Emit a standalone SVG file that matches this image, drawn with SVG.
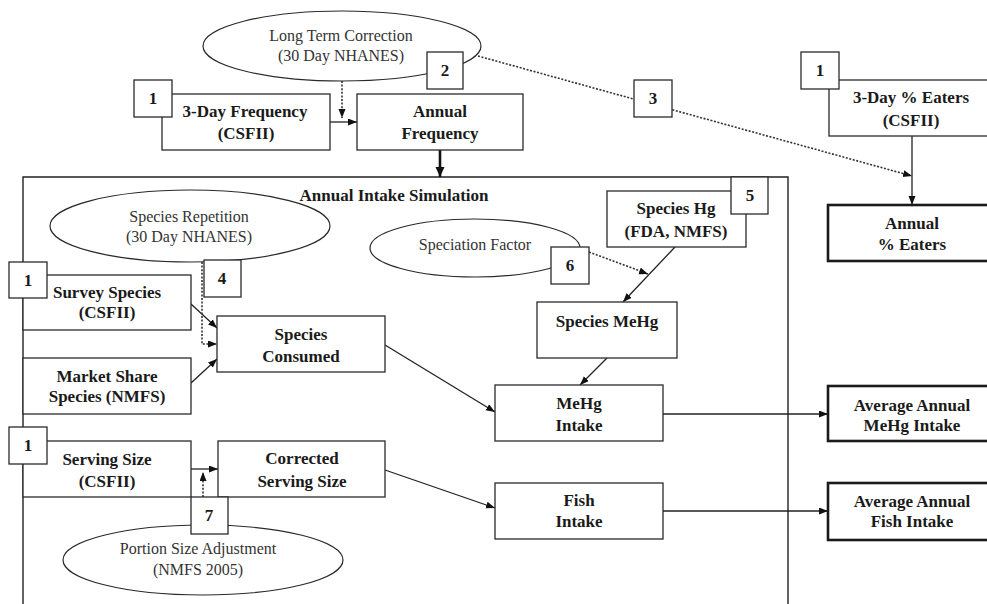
<svg xmlns="http://www.w3.org/2000/svg" width="987" height="604" viewBox="0 0 987 604">
<defs>
<style>
.b{fill:#fff;stroke:#2a2a2a;stroke-width:1.3}
.tb{fill:#fff;stroke:#1a1a1a;stroke-width:2.6}
.e{fill:#fff;stroke:#2a2a2a;stroke-width:1.2}
.n{fill:#fff;stroke:#2a2a2a;stroke-width:1.3}
.t{font-family:"Liberation Serif","Times New Roman",serif;font-weight:bold;font-size:17px;fill:#1a1a1a;text-anchor:middle}
.r{font-family:"Liberation Serif","Times New Roman",serif;font-size:16px;fill:#333;text-anchor:middle}
.c{fill:none;stroke:#222;stroke-width:1.3}
.d{fill:none;stroke:#333;stroke-width:1.6;stroke-dasharray:2 1.6}
</style>
<marker id="a" markerUnits="userSpaceOnUse" markerWidth="10" markerHeight="8" refX="9" refY="3.5" orient="auto">
<path d="M0,0 L9,3.5 L0,7 z" fill="#111"/>
</marker>
<marker id="a2" markerUnits="userSpaceOnUse" markerWidth="12" markerHeight="10" refX="10" refY="4.5" orient="auto">
<path d="M0,0 L10,4.5 L0,9 z" fill="#111"/>
</marker>
</defs>
<rect width="987" height="604" fill="#fff"/>

<g id="simulation">
<path d="M23,604 L23,177 L788,177 L788,604" fill="none" stroke="#222" stroke-width="1.4"/>
<text class="t" x="394" y="201">Annual Intake Simulation</text>
</g>

<g id="connectors">
<line class="c" x1="330" y1="122" x2="357" y2="122" marker-end="url(#a)"/>
<line class="d" x1="342" y1="81" x2="342" y2="118" marker-end="url(#a)"/>
<line x1="440" y1="150" x2="440" y2="177" stroke="#111" stroke-width="2.6" marker-end="url(#a2)"/>
<line class="d" x1="478" y1="56" x2="912" y2="176" marker-end="url(#a)"/>
<line class="c" x1="912" y1="136" x2="912" y2="205" marker-end="url(#a)"/>
<line class="c" x1="191" y1="304" x2="217" y2="328" marker-end="url(#a)"/>
<polyline class="d" points="202,262 202,344 217,344" marker-end="url(#a)"/>
<line class="c" x1="191" y1="383" x2="217" y2="359" marker-end="url(#a)"/>
<line class="c" x1="385" y1="345" x2="495" y2="412" marker-end="url(#a)"/>
<line class="c" x1="191" y1="469" x2="218" y2="469" marker-end="url(#a)"/>
<line class="d" x1="203" y1="497" x2="203" y2="472" marker-end="url(#a)"/>
<line class="c" x1="385" y1="470" x2="495" y2="508" marker-end="url(#a)"/>
<line class="c" x1="675" y1="247" x2="623" y2="302" marker-end="url(#a)"/>
<line class="d" x1="589" y1="252" x2="648" y2="274" marker-end="url(#a)"/>
<line class="c" x1="607" y1="358" x2="580" y2="385" marker-end="url(#a)"/>
<line class="c" x1="663" y1="414" x2="828" y2="414" marker-end="url(#a)"/>
<line class="c" x1="663" y1="511" x2="828" y2="511" marker-end="url(#a)"/>
</g>

<g id="long-term-correction">
<ellipse class="e" cx="342" cy="46" rx="139" ry="35"/>
<text class="r" x="341" y="41">Long Term Correction</text>
<text class="r" x="341" y="61">(30 Day NHANES)</text>
</g>
<g id="three-day-frequency">
<rect class="b" x="162" y="94" width="168" height="56"/>
<text class="t" x="245" y="117">3-Day Frequency</text>
<text class="t" x="246" y="139">(CSFII)</text>
</g>
<g id="annual-frequency">
<rect class="b" x="357" y="94" width="166" height="56"/>
<text class="t" x="440" y="117">Annual</text>
<text class="t" x="440" y="139">Frequency</text>
</g>
<g id="three-day-eaters">
<rect class="b" x="829" y="80" width="170" height="56"/>
<text class="t" x="911" y="103">3-Day % Eaters</text>
<text class="t" x="911" y="126">(CSFII)</text>
</g>
<g id="annual-eaters">
<rect class="tb" x="828" y="205" width="175" height="56"/>
<text class="t" x="912" y="229">Annual</text>
<text class="t" x="912" y="250">% Eaters</text>
</g>

<g id="species-repetition">
<ellipse class="e" cx="190" cy="226" rx="140" ry="36"/>
<text class="r" x="189" y="222">Species Repetition</text>
<text class="r" x="189" y="242">(30 Day NHANES)</text>
</g>
<g id="speciation-factor">
<ellipse class="e" cx="475" cy="248" rx="105" ry="29"/>
<text class="r" x="475" y="250">Speciation Factor</text>
</g>
<g id="species-hg">
<rect class="b" x="607" y="191" width="139" height="56"/>
<text class="t" x="676" y="214">Species Hg</text>
<text class="t" x="676" y="237">(FDA, NMFS)</text>
</g>
<g id="survey-species">
<rect class="b" x="23" y="275" width="168" height="55"/>
<text class="t" x="107" y="298">Survey Species</text>
<text class="t" x="107" y="318">(CSFII)</text>
</g>
<g id="market-share">
<rect class="b" x="23" y="358" width="168" height="56"/>
<text class="t" x="107" y="382">Market Share</text>
<text class="t" x="107" y="402">Species (NMFS)</text>
</g>
<g id="species-consumed">
<rect class="b" x="217" y="316" width="168" height="56"/>
<text class="t" x="301" y="340">Species</text>
<text class="t" x="301" y="362">Consumed</text>
</g>
<g id="species-mehg">
<rect class="b" x="537" y="302" width="140" height="56"/>
<text class="t" x="607" y="327">Species MeHg</text>
</g>
<g id="mehg-intake">
<rect class="b" x="495" y="385" width="168" height="56"/>
<text class="t" x="579" y="409">MeHg</text>
<text class="t" x="579" y="431">Intake</text>
</g>
<g id="avg-mehg">
<rect class="tb" x="828" y="386" width="175" height="55"/>
<text class="t" x="912" y="411">Average Annual</text>
<text class="t" x="912" y="431">MeHg Intake</text>
</g>
<g id="serving-size">
<rect class="b" x="23" y="441" width="168" height="56"/>
<text class="t" x="107" y="465">Serving Size</text>
<text class="t" x="107" y="487">(CSFII)</text>
</g>
<g id="corrected-serving">
<rect class="b" x="218" y="441" width="167" height="56"/>
<text class="t" x="302" y="464">Corrected</text>
<text class="t" x="302" y="487">Serving Size</text>
</g>
<g id="fish-intake">
<rect class="b" x="495" y="483" width="168" height="56"/>
<text class="t" x="579" y="506">Fish</text>
<text class="t" x="579" y="527">Intake</text>
</g>
<g id="avg-fish">
<rect class="tb" x="828" y="483" width="175" height="57"/>
<text class="t" x="912" y="507">Average Annual</text>
<text class="t" x="912" y="527">Fish Intake</text>
</g>
<g id="portion-size">
<ellipse class="e" cx="203" cy="560" rx="140" ry="35"/>
<text class="r" x="198" y="554">Portion Size Adjustment</text>
<text class="r" x="198" y="575">(NMFS 2005)</text>
</g>

<g id="num-1a"><rect class="n" x="134" y="80" width="38" height="37"/><text class="t" x="153" y="104">1</text></g>
<g id="num-2"><rect class="n" x="427" y="52" width="36" height="37"/><text class="t" x="445" y="76">2</text></g>
<g id="num-3"><rect class="n" x="634" y="80" width="38" height="37"/><text class="t" x="653" y="104">3</text></g>
<g id="num-1b"><rect class="n" x="801" y="52" width="38" height="37"/><text class="t" x="820" y="76">1</text></g>
<g id="num-5"><rect class="n" x="731" y="177" width="37" height="37"/><text class="t" x="750" y="201">5</text></g>
<g id="num-1c"><rect class="n" x="9" y="262" width="38" height="36"/><text class="t" x="28" y="286">1</text></g>
<g id="num-4"><rect class="n" x="204" y="260" width="37" height="37"/><text class="t" x="222" y="284">4</text></g>
<g id="num-6"><rect class="n" x="551" y="247" width="38" height="37"/><text class="t" x="570" y="271">6</text></g>
<g id="num-1d"><rect class="n" x="9" y="427" width="38" height="37"/><text class="t" x="28" y="451">1</text></g>
<g id="num-7"><rect class="n" x="191" y="497" width="37" height="37"/><text class="t" x="209" y="521">7</text></g>
</svg>
